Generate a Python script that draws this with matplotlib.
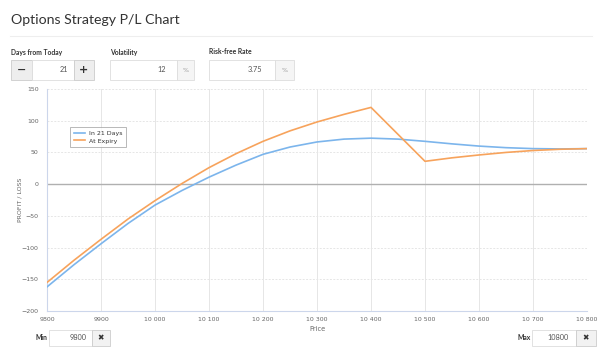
import matplotlib
matplotlib.use("Agg")
import matplotlib.pyplot as plt
from matplotlib.patches import Rectangle

# ---- data ----
price = [9800, 9850, 9900, 9950, 10000, 10050, 10100, 10150, 10200, 10250,
         10300, 10350, 10400, 10450, 10500, 10550, 10600, 10650, 10700, 10750, 10800]
pl_21_days = [-162, -127, -94, -62, -33, -10, 11, 30, 47, 58.5,
              66.5, 71, 72.5, 71, 67.5, 63.5, 60, 57.5, 56, 55.5, 56]
price_exp = [9800, 9850, 9900, 9950, 10000, 10050, 10100, 10150, 10200, 10250,
             10300, 10350, 10400, 10500, 10550, 10600, 10650, 10700, 10750, 10800]
pl_expiry = [-155, -120, -87, -55, -26, 1, 26, 48, 67.5, 84,
             98, 110, 121, 36, 41.5, 46, 50, 53, 55, 56]
x_ticks = [9800, 9900, 10000, 10100, 10200, 10300, 10400, 10500, 10600, 10700, 10800]
x_tick_labels = ["9800", "9900", "10 000", "10 100", "10 200", "10 300",
                 "10 400", "10 500", "10 600", "10 700", "10 800"]
y_ticks = [-200, -150, -100, -50, 0, 50, 100, 150]
series_names = ["In 21 Days", "At Expiry"]

W, H = 600, 353
fig = plt.figure(figsize=(W / 100, H / 100), dpi=100)
fig.patch.set_facecolor("white")

def fx(px):
    return px / W

def fy(py):
    return 1 - py / H

# ---- main chart ----
left, right, top, bottom = 47, 587, 89, 311
ax = fig.add_axes([fx(left), fy(bottom), fx(right - left), (bottom - top) / H])
ax.set_xlim(9800, 10800)
ax.set_ylim(-200, 150)
for v in x_ticks:
    ax.axvline(v, color="#e6e6e6", lw=0.7, zorder=0)
for v in y_ticks:
    if v != 0:
        ax.axhline(v, color="#e6e6e6", lw=0.7, ls=(0, (2, 1.5)), zorder=0)
ax.axhline(0, color="#b0b0b0", lw=1.0, zorder=1)

ax.plot(price, pl_21_days, color="#7cb5ec", lw=1.2, label=series_names[0], zorder=3,
        solid_joinstyle="round")
ax.plot(price_exp, pl_expiry, color="#f7a35c", lw=1.2, label=series_names[1], zorder=3,
        solid_joinstyle="round")

ax.set_xticks(x_ticks)
ax.set_xticklabels(x_tick_labels)
ax.set_yticks(y_ticks)
ax.tick_params(axis="both", length=0, labelsize=4.5, colors="#666666")
ax.tick_params(axis="x", pad=4)
ax.tick_params(axis="y", pad=6)
for s in ["top", "right"]:
    ax.spines[s].set_visible(False)
for s in ["left", "bottom"]:
    ax.spines[s].set_color("#ccd6eb")
    ax.spines[s].set_linewidth(0.8)
ax.set_xlabel("Price", fontsize=4.8, color="#666666", labelpad=3)
ax.set_ylabel("PROFIT / LOSS", fontsize=4.5, color="#666666", labelpad=0)
ax.yaxis.set_label_coords((22 - left) / 540, 0.5)

leg = ax.legend(loc="upper left", bbox_to_anchor=((67 - left) / 540, (bottom - 124) / 222),
                fontsize=4.5, frameon=True, fancybox=False, borderpad=0.55,
                handlelength=1.8, handletextpad=0.6, labelspacing=0.35)
leg.get_frame().set_edgecolor("#999999")
leg.get_frame().set_linewidth(0.6)
for t in leg.get_texts():
    t.set_color("#333333")

# ---- UI overlay ----
ui = fig.add_axes([0, 0, 1, 1])
ui.set_xlim(0, W)
ui.set_ylim(H, 0)
ui.axis("off")
ui.patch.set_visible(False)

ui.text(11, 24, "Options Strategy P/L Chart", fontsize=10.2, family="Lato",
        color="#333333", va="baseline", ha="left")
ui.plot([10, 592], [36, 36], color="#eeeeee", lw=0.8)

lab_kw = dict(fontsize=4.9, family="Lato", weight="bold", color="#333333", va="center")
ui.text(11, 52, "Days from Today", **lab_kw)
ui.text(110, 52, "Volatility", **lab_kw)
ui.text(209, 52, "Risk-free Rate", **lab_kw)

def box(x0, x1, y0, y1, fc, ec="#cccccc"):
    ui.add_patch(Rectangle((x0, y0), x1 - x0, y1 - y0, facecolor=fc,
                           edgecolor=ec, lw=0.6))

val_kw = dict(fontsize=5.3, family="Lato", color="#555555", va="center")
# Days from today
box(11, 32, 60, 80, "#eeeeee")
box(32, 74, 60, 80, "white", "#dddddd")
box(74, 94, 60, 80, "#eeeeee")
ui.text(21.5, 70, "−", fontsize=8, weight="bold", color="#333333", ha="center", va="center")
ui.text(84, 70, "+", fontsize=8, weight="bold", color="#333333", ha="center", va="center")
ui.text(68, 70, "21", ha="right", **val_kw)
# Volatility
box(110, 177, 60, 80, "white", "#dddddd")
box(177, 194, 60, 80, "#f5f5f5", "#dddddd")
ui.text(166, 70, "12", ha="right", **val_kw)
ui.text(185.5, 70, "%", fontsize=4.5, color="#999999", ha="center", va="center")
# Risk-free
box(209, 275, 60, 80, "white", "#dddddd")
box(275, 294, 60, 80, "#f5f5f5", "#dddddd")
ui.text(262, 70, "3.75", ha="right", **val_kw)
ui.text(284.5, 70, "%", fontsize=4.5, color="#999999", ha="center", va="center")

# Min / Max
ui.text(36, 338, "Min", **lab_kw)
box(49, 92, 330, 346, "white", "#dddddd")
box(92, 110, 330, 346, "#f2f2f2", "#cccccc")
ui.text(87, 338, "9800", ha="right", **val_kw)
ui.text(101, 338, "✖", fontsize=5.5, family="DejaVu Sans", color="#333333", ha="center", va="center")

ui.text(517, 338, "Max", **lab_kw)
box(532, 576, 330, 346, "white", "#dddddd")
box(576, 596, 330, 346, "#f2f2f2", "#cccccc")
ui.text(569, 338, "10800", ha="right", **val_kw)
ui.text(586, 338, "✖", fontsize=5.5, family="DejaVu Sans", color="#333333", ha="center", va="center")

fig.savefig("out.png", dpi=100, facecolor="white")
